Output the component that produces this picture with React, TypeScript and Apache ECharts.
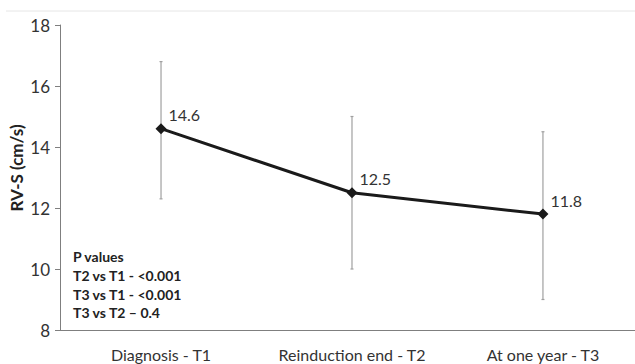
import React, { useEffect, useRef } from "react";
import * as echarts from "echarts";

const categories = ["Diagnosis - T1", "Reinduction end - T2", "At one year - T3"];
const means = [14.6, 12.5, 11.8];
const upper = [16.8, 15.0, 14.5];
const lower = [12.3, 10.0, 9.0];
const pValueLines = ["P values", "T2 vs T1 - <0.001", "T3 vs T1 - <0.001", "T3 vs T2 \u2013 0.4"];
const yTicks = { min: 8, max: 18, interval: 2 };

const FONT = "Lato, 'Open Sans', sans-serif";

export default function App() {
  const ref = useRef<HTMLDivElement>(null);
  useEffect(() => {
    if (!ref.current) return;
    const chart = echarts.init(ref.current, null, { renderer: "svg" });
    const idx = categories.map((_, i) => i);
    const errData = idx.map((i) => [i, lower[i], upper[i]]);
    const lineData = idx.map((i) => [i, means[i]]);
    chart.setOption({
      animation: false,
      grid: { left: 60, right: 0, top: 25, bottom: 34 },
      xAxis: {
        type: "value",
        min: -0.529,
        max: 2.482,
        splitLine: { show: false },
        axisLine: { show: true, onZero: false, lineStyle: { color: "#7f7f7f", width: 1 } },
        axisTick: { show: false },
        axisLabel: {
          customValues: idx,
          formatter: (v: number) => categories[Math.round(v)] ?? "",
          color: "#333",
          fontSize: 16,
          fontFamily: FONT,
          margin: 16,
          hideOverlap: false,
          showMinLabel: true,
          showMaxLabel: true,
        },
      },
      yAxis: {
        type: "value",
        min: yTicks.min,
        max: yTicks.max,
        interval: yTicks.interval,
        splitLine: { show: false },
        axisLine: { show: true, onZero: false, lineStyle: { color: "#7f7f7f", width: 1 } },
        axisTick: { show: true, length: 5, lineStyle: { color: "#7f7f7f" } },
        axisLabel: { color: "#333", fontSize: 17, fontFamily: FONT, margin: 10 },
      },
      graphic: [
        {
          type: "line",
          shape: { x1: 6, y1: 11, x2: 635, y2: 11 },
          style: { stroke: "#e6e6e6", lineWidth: 1 },
        },
        {
          type: "text",
          x: 16,
          y: 168,
          rotation: Math.PI / 2,
          style: {
            text: "RV-S (cm/s)",
            fontFamily: FONT,
            fontSize: 17,
            fontWeight: "bold",
            fill: "#222",
            align: "center",
            verticalAlign: "middle",
          },
        },
        ...pValueLines.map((t, i) => ({
          type: "text",
          x: 73,
          y: 256.7 + i * 18.7,
          style: {
            text: t,
            fontFamily: FONT,
            fontSize: 14,
            fontWeight: "bold",
            fill: "#222",
            verticalAlign: "middle",
          },
        })),
      ],
      series: [
        {
          type: "custom",
          data: errData,
          z: 1,
          renderItem: (params: any, api: any) => {
            const x = api.value(0);
            const lo = api.coord([x, api.value(1)]);
            const hi = api.coord([x, api.value(2)]);
            const style = { stroke: "#a0a0a0", lineWidth: 1.2 };
            return {
              type: "group",
              children: [
                { type: "line", shape: { x1: lo[0], y1: lo[1], x2: hi[0], y2: hi[1] }, style },
                { type: "line", shape: { x1: lo[0] - 1.5, y1: lo[1], x2: lo[0] + 1.5, y2: lo[1] }, style },
                { type: "line", shape: { x1: hi[0] - 1.5, y1: hi[1], x2: hi[0] + 1.5, y2: hi[1] }, style },
              ],
            };
          },
        },
        {
          type: "line",
          data: lineData,
          z: 3,
          symbol: "diamond",
          symbolSize: 11,
          itemStyle: { color: "#1a1a1a" },
          lineStyle: { color: "#1a1a1a", width: 3 },
          label: {
            show: true,
            position: "right",
            distance: 5,
            offset: [-3, -14],
            color: "#333",
            fontSize: 16,
            fontFamily: FONT,
            formatter: (p: any) => String(p.value[1]),
          },
        },
      ],
    });
    return () => chart.dispose();
  }, []);
  return <div ref={ref} style={{ width: 635, height: 364, position: "absolute", left: 0, top: 0 }} />;
}
